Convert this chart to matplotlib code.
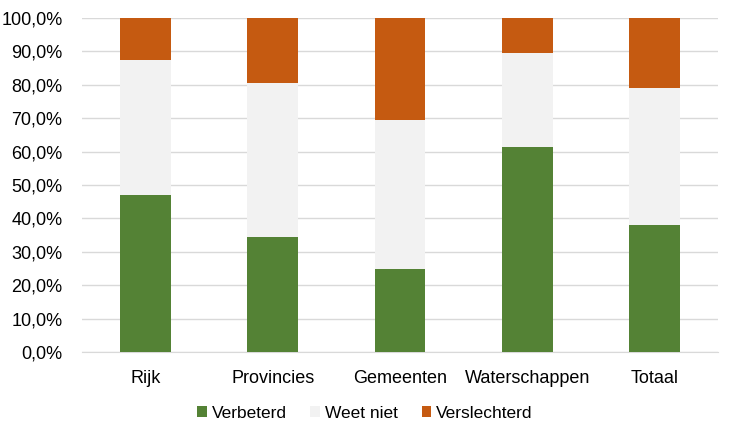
import matplotlib
matplotlib.use("Agg")
import matplotlib.pyplot as plt
from matplotlib.ticker import FuncFormatter
from matplotlib import font_manager

categories = ["Rijk", "Provincies", "Gemeenten", "Waterschappen", "Totaal"]
verbeterd = [47.0, 34.4, 24.8, 61.4, 38.0]
weet_niet = [40.3, 46.1, 44.7, 28.1, 40.9]
verslechterd = [12.7, 19.5, 30.5, 10.5, 21.1]
series_names = ["Verbeterd", "Weet niet", "Verslechterd"]
colors = ["#548235", "#F2F2F2", "#C55A11"]

names = {f.name for f in font_manager.fontManager.ttflist}
fam = ["Liberation Sans Narrow", "DejaVu Sans"] if "Liberation Sans Narrow" in names else ["Liberation Sans", "DejaVu Sans"]
plt.rcParams["font.family"] = fam

fig = plt.figure(figsize=(7.3, 4.36), dpi=100)
ax = fig.add_axes([0.1123, 0.1927, 0.8713, 0.766])

x = list(range(len(categories)))
bottom = [0.0] * len(categories)
for name, vals, c in zip(series_names, [verbeterd, weet_niet, verslechterd], colors):
    ax.bar(x, vals, 0.4, bottom=bottom, color=c, label=name, zorder=3)
    bottom = [b + v for b, v in zip(bottom, vals)]

ax.set_xlim(-0.5, len(categories) - 0.5)
ax.set_ylim(0, 100)
ax.set_yticks(range(0, 101, 10))
ax.yaxis.set_major_formatter(FuncFormatter(lambda v, p: f"{v:.1f}%".replace(".", ",")))
ax.set_xticks(x)
ax.set_xticklabels(categories)
ax.tick_params(axis="both", length=0, labelsize=13, colors="#000000")
ax.tick_params(axis="x", pad=13)
ax.tick_params(axis="y", pad=14)
ax.grid(axis="y", color="#D9D9D9", linewidth=1, zorder=0)
for s in ["top", "right", "left"]:
    ax.spines[s].set_visible(False)
ax.spines["bottom"].set_color("#D9D9D9")

fig.legend(loc="center", bbox_to_anchor=(0.5, 0.052), ncol=3, frameon=False,
           fontsize=12.5, handlelength=0.55, handleheight=0.6, handletextpad=0.3,
           columnspacing=1.35)

fig.savefig("out.png", dpi=100)
